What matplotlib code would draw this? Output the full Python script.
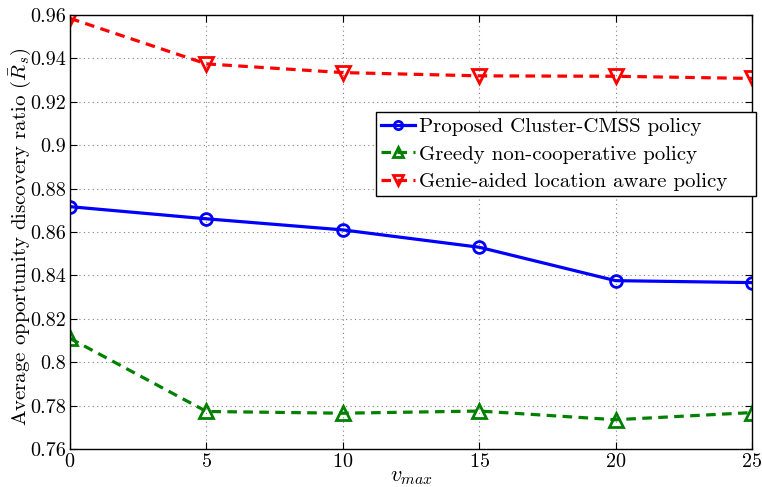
import matplotlib
matplotlib.use("Agg")
import matplotlib.pyplot as plt

plt.rcParams['font.family'] = 'serif'
plt.rcParams['font.serif'] = ['cmr10']
plt.rcParams['mathtext.fontset'] = 'cm'
plt.rcParams['axes.formatter.use_mathtext'] = True

v_max = [0, 5, 10, 15, 20, 25]
cluster_cmss = [0.8717, 0.8661, 0.8610, 0.8530, 0.8376, 0.8367]
greedy = [0.8110, 0.7773, 0.7765, 0.7775, 0.7735, 0.7768]
genie = [0.9585, 0.9375, 0.9335, 0.9320, 0.9318, 0.9308]

labels = ["Proposed Cluster-CMSS policy",
          "Greedy non-cooperative policy",
          "Genie-aided location aware policy"]

x_ticks = [0, 5, 10, 15, 20, 25]
y_ticks = [0.76, 0.78, 0.8, 0.82, 0.84, 0.86, 0.88, 0.9, 0.92, 0.94, 0.96]
y_tick_labels = ["0.76", "0.78", "0.8", "0.82", "0.84", "0.86", "0.88", "0.9", "0.92", "0.94", "0.96"]

fig = plt.figure(figsize=(7.62, 4.87), dpi=100)
ax = fig.add_axes([0.0919, 0.078, 0.895, 0.891])

ax.plot(v_max, cluster_cmss, '-', color='#0000ff', lw=2.3, marker='o', ms=8.5,
        mfc='none', mec='#0000ff', mew=2, label=labels[0])
ax.plot(v_max, greedy, '--', color='#008000', lw=2.3, marker='^', ms=10,
        mfc='none', mec='#008000', mew=2, label=labels[1], dashes=(3, 2))
ax.plot(v_max, genie, '--', color='#ff0000', lw=2.3, marker='v', ms=10,
        mfc='none', mec='#ff0000', mew=2, label=labels[2], dashes=(3, 2))

ax.set_xlim(0, 25)
ax.set_ylim(0.76, 0.96)
ax.set_xticks(x_ticks)
ax.set_yticks(y_ticks)
ax.set_yticklabels(y_tick_labels)
ax.tick_params(direction='in', labelsize=14.5, top=True, right=True, length=5, pad=3)
ax.grid(True, linestyle=(0, (1, 3)), color='#808080', lw=0.8)
for s in ax.spines.values():
    s.set_linewidth(1.0)

ax.set_xlabel(r'$v_{max}$', fontsize=16, labelpad=-3)
ax.set_ylabel(r'Average opportunity discovery ratio ($\bar{R}_s$)', fontsize=15)
ax.yaxis.set_label_coords(-0.073, 0.49)
ax.yaxis.label.set_verticalalignment('center')

# legend box spans a fixed region of the figure, entries left-aligned inside it
leg = ax.legend(loc='upper left', bbox_to_anchor=(0.4934, 0.592, 0.4986, 0.177),
                bbox_transform=fig.transFigure, mode='expand', fontsize=15,
                fancybox=False, framealpha=1, edgecolor='black',
                handlelength=1.6, handletextpad=0.2, borderpad=0.25,
                labelspacing=0.42, borderaxespad=0, markerscale=0.7)
leg.get_frame().set_linewidth(1.0)

fig.savefig('out.png', dpi=100)
